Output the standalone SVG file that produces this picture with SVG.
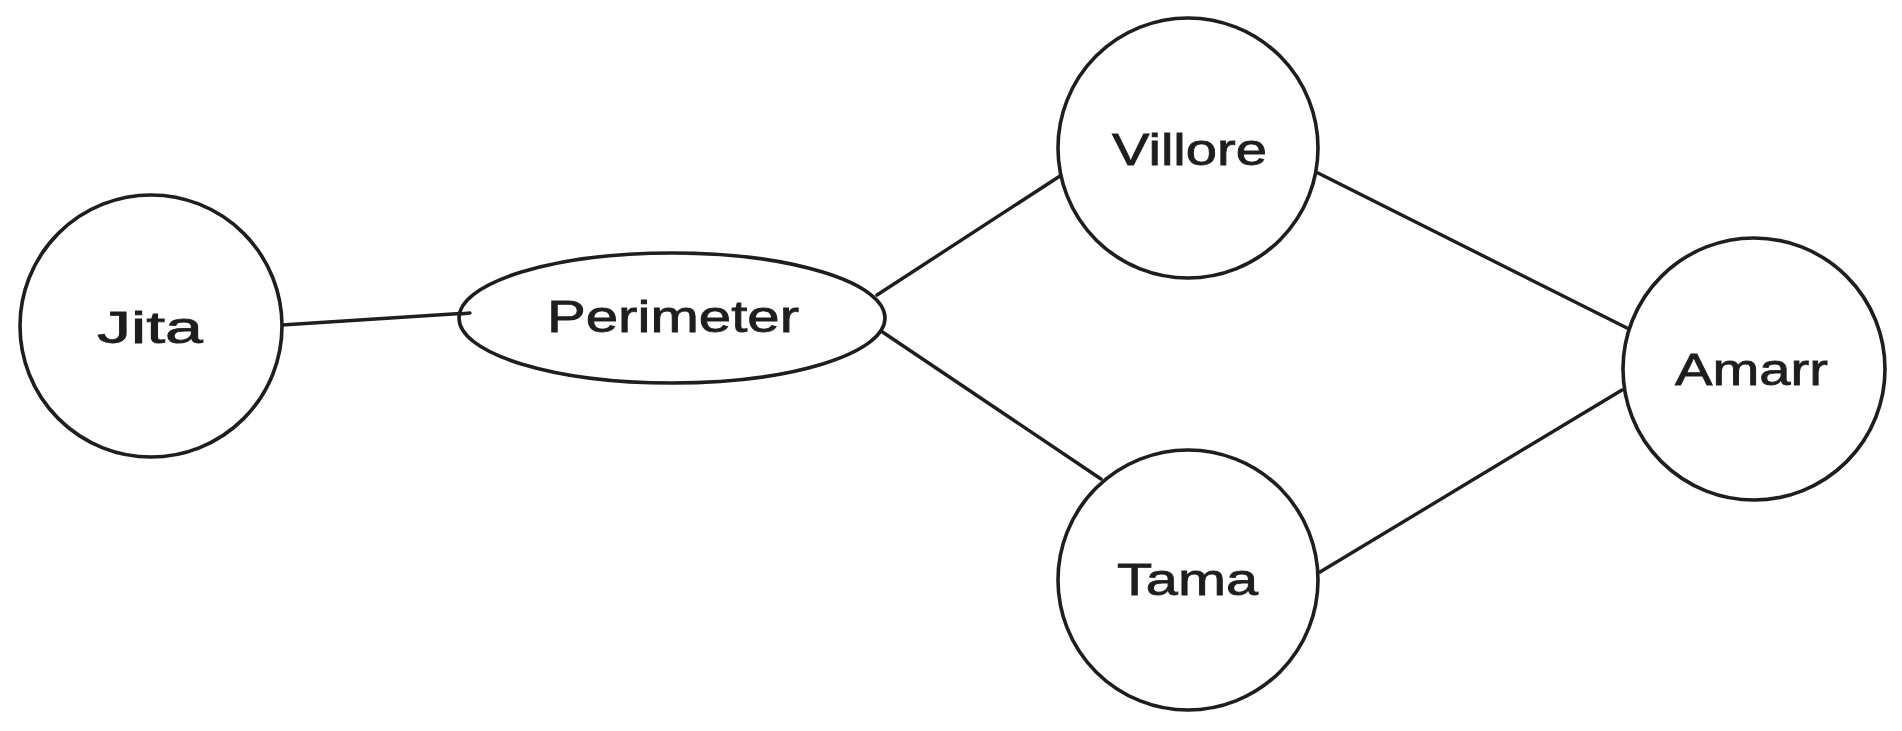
<svg xmlns="http://www.w3.org/2000/svg" width="1902" height="731" viewBox="0 0 1902 731">
<style>
.node{fill:#ffffff;stroke:#1e1e1e;stroke-width:3.6}
.edge{stroke:#1e1e1e;stroke-width:3.4;fill:none;stroke-linecap:round}
.lbl{font-family:"Liberation Sans",Arial,sans-serif;font-size:44px;fill:#1e1e1e;stroke:#1e1e1e;stroke-width:0.8;text-anchor:start}
</style>
<rect width="1902" height="731" fill="#ffffff"/>
<g id="connectors">
<line class="edge" x1="282" y1="325" x2="468" y2="313"/>
<line class="edge" x1="877" y1="295" x2="1060" y2="176"/>
<line class="edge" x1="881" y1="331" x2="1101" y2="479"/>
<line class="edge" x1="1318" y1="173" x2="1627" y2="328"/>
<line class="edge" x1="1320" y1="572" x2="1622" y2="390"/>
</g>
<g id="node-jita">
<circle class="node" cx="151" cy="326" r="131"/>
<text class="lbl" x="97" y="343" textLength="106" lengthAdjust="spacingAndGlyphs">Jita</text>
</g>
<g id="node-perimeter">
<ellipse class="node" cx="672" cy="318" rx="213" ry="65"/>
<line class="edge" x1="459" y1="314" x2="470" y2="313"/>
<text class="lbl" x="547" y="332" textLength="252" lengthAdjust="spacingAndGlyphs">Perimeter</text>
</g>
<g id="node-villore">
<circle class="node" cx="1188" cy="148" r="130"/>
<text class="lbl" x="1112" y="165" textLength="155" lengthAdjust="spacingAndGlyphs">Villore</text>
</g>
<g id="node-tama">
<circle class="node" cx="1188" cy="580" r="130"/>
<text class="lbl" x="1117" y="595" textLength="141" lengthAdjust="spacingAndGlyphs">Tama</text>
</g>
<g id="node-amarr">
<circle class="node" cx="1754" cy="369" r="131"/>
<text class="lbl" x="1675" y="385" textLength="153" lengthAdjust="spacingAndGlyphs">Amarr</text>
</g>
</svg>
